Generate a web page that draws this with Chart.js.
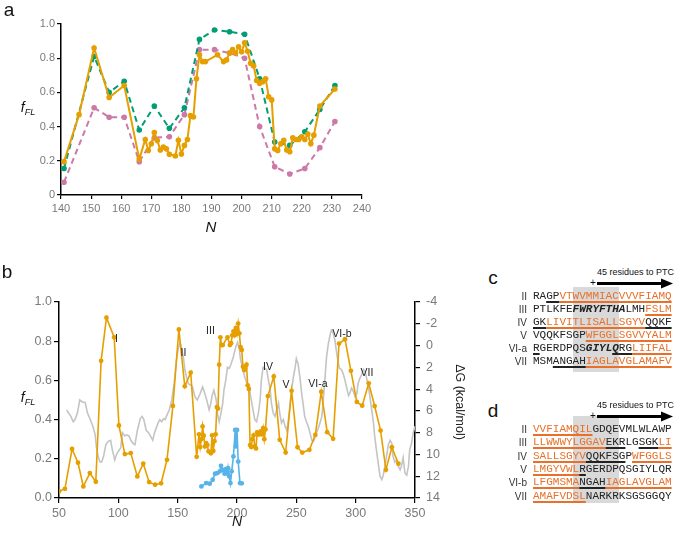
<!DOCTYPE html>
<html><head><meta charset="utf-8">
<script src="https://cdn.jsdelivr.net/npm/chart.js@4/dist/chart.umd.min.js"></script>
<style>
body{margin:0;background:#fff;}
#wrap{position:relative;width:677px;height:535px;overflow:hidden;font-family:'Liberation Sans',Arial,sans-serif;}
.abs{position:absolute;white-space:nowrap;}
.cc{transform:translate(-50%,-50%);}
.plab{font-size:19px;color:#111;line-height:19px;}
.ttl{font-style:italic;color:#111;}
.rn{font-size:10.5px;color:#222;line-height:11px;}
.seq{position:absolute;left:533px;font-family:'Liberation Mono','Courier New',monospace;font-size:11px;line-height:13px;height:13px;color:#222;white-space:pre;}
.o{color:#E8702A;}
.u{text-decoration:underline;text-decoration-thickness:1.5px;text-underline-offset:2px;}
.rl{position:absolute;right:150px;font-size:10px;color:#333;line-height:13px;text-align:right;}
.box{position:absolute;background:#d9d9d9;}
.ptc{font-size:9px;color:#111;}
canvas{position:absolute;}
</style></head>
<body><div id="wrap">
<canvas id="ca" width="380" height="240" style="left:0;top:0"></canvas>
<canvas id="cb" width="470" height="265" style="left:0;top:270px"></canvas>

<div class="abs cc plab" style="left:9px;top:9px">a</div>
<div class="abs cc plab" style="left:7px;top:271px">b</div>
<div class="abs cc plab" style="left:493px;top:277px">c</div>
<div class="abs cc plab" style="left:493px;top:410px">d</div>

<div class="abs cc ttl" style="left:28px;top:108px;font-size:14px">f<sub style="font-size:9px">FL</sub></div>
<div class="abs cc ttl" style="left:211px;top:226px;font-size:15px">N</div>
<div class="abs cc ttl" style="left:28px;top:398px;font-size:14px">f<sub style="font-size:9px">FL</sub></div>
<div class="abs cc ttl" style="left:237px;top:521px;font-size:14px">N</div>
<div class="abs cc" style="left:460px;top:402px;font-size:12.5px;color:#222;transform:translate(-50%,-50%) rotate(90deg)">ΔG (kcal/mol)</div>

<div class="abs cc rn" style="left:116.5px;top:338px">I</div>
<div class="abs cc rn" style="left:183.5px;top:352px">II</div>
<div class="abs cc rn" style="left:210.5px;top:330px">III</div>
<div class="abs cc rn" style="left:268px;top:366px">IV</div>
<div class="abs cc rn" style="left:286px;top:384px">V</div>
<div class="abs cc rn" style="left:318px;top:383px">VI-a</div>
<div class="abs cc rn" style="left:342px;top:333px">VI-b</div>
<div class="abs cc rn" style="left:367px;top:372px">VII</div>

<!-- panel c -->
<div class="box" style="left:572.6px;top:287px;width:46.2px;height:85px"></div>
<div class="abs ptc" style="left:597px;top:267px">45 residues to PTC</div>
<div class="abs" style="left:590px;top:277px;font-size:10px;color:#111">+</div>
<svg class="abs" style="left:595px;top:277px" width="80" height="14"><line x1="2" y1="6.5" x2="68" y2="6.5" stroke="#000" stroke-width="3"/><polygon points="66,1.5 78,6.5 66,11.5" fill="#000"/></svg>
<div class="rl" style="top:290.2px">II</div>
<div class="rl" style="top:303.2px">III</div>
<div class="rl" style="top:316.2px">IV</div>
<div class="rl" style="top:329.2px">V</div>
<div class="rl" style="top:342.2px">VI-a</div>
<div class="rl" style="top:355.2px">VII</div>
<div class="seq" style="top:290.2px">RA<span class="u">GP</span><span class="o u">VTWVMMIACVVVFIAMQ</span></div>
<div class="seq" style="top:303.2px">PTLKFE<b><i>FWRYFTHA</i></b>LMH<span class="o u">FSLM</span></div>
<div class="seq" style="top:316.2px"><span class="u">GK</span><span class="o u">LIVITLISALLSGYV</span><span class="u">QQKF</span></div>
<div class="seq" style="top:329.2px">VQQKFSGP<span class="o u">WFGGLSGVVYALM</span></div>
<div class="seq" style="top:342.2px"><span class="u">R</span>GERDPQS<b><i>GIYL<span class="u">Q</span></i></b><span class="u">RG</span><span class="o u">LIIFAL</span></div>
<div class="seq" style="top:355.2px">MSM<span class="u">ANGAH</span><span class="o u">IAGLAVGLAMAFV</span></div>

<!-- panel d -->
<div class="box" style="left:572.6px;top:416px;width:46.2px;height:87px"></div>
<div class="abs ptc" style="left:597px;top:400px">45 residues to PTC</div>
<div class="abs" style="left:590px;top:410px;font-size:10px;color:#111">+</div>
<svg class="abs" style="left:595px;top:409.5px" width="80" height="14"><line x1="2" y1="6.5" x2="68" y2="6.5" stroke="#000" stroke-width="3"/><polygon points="66,1.5 78,6.5 66,11.5" fill="#000"/></svg>
<div class="rl" style="top:422.8px">II</div>
<div class="rl" style="top:436.2px">III</div>
<div class="rl" style="top:449.6px">IV</div>
<div class="rl" style="top:463px">V</div>
<div class="rl" style="top:476.4px">VI-b</div>
<div class="rl" style="top:489.8px">VII</div>
<div class="seq" style="top:422.8px"><span class="o u">VVFIAMQIL</span>GDQEVMLWLAWP</div>
<div class="seq" style="top:436.2px"><span class="o u">LLWWWYLGGAV</span><span class="u">EKR</span>LG<span class="u">SGK</span><span class="o u">LI</span></div>
<div class="seq" style="top:449.6px"><span class="o u">SALLSGYV</span><span class="u">QQKFSG</span>P<span class="o u">WFGGLS</span></div>
<div class="seq" style="top:463px"><span class="o u">LMGYVWL</span><span class="u">R</span>GERDPQSGIYLQR</div>
<div class="seq" style="top:476.4px"><span class="o u">LFGMSMA</span><span class="u">NGAH</span><span class="o u">IAGLAVGLAM</span></div>
<div class="seq" style="top:489.8px"><span class="o u">AMAFVDSL</span>NARKRKSGSGGQY</div>
</div>

<script>
// ---------- Panel a data ----------
const aOrangeN = [141,146,151,156,161,166,168,169,170,171,172,173,174,175,176,178,179,180,181,182,183,184,185,186,187,188,192,194,195,196,197,198,199,200,201,202,203,204,205,206,207,208,209,210,211,212,213,214,215,216,217,218,219,220,221,222,223,224,226,231];
const aOrange  = [0.195,0.47,0.86,0.57,0.64,0.21,0.325,0.26,0.30,0.365,0.318,0.263,0.28,0.27,0.238,0.228,0.32,0.24,0.29,0.325,0.464,0.456,0.68,0.82,0.78,0.78,0.82,0.78,0.79,0.83,0.85,0.83,0.867,0.838,0.89,0.84,0.77,0.755,0.67,0.653,0.663,0.68,0.575,0.556,0.27,0.26,0.30,0.32,0.263,0.253,0.335,0.325,0.325,0.34,0.325,0.357,0.30,0.35,0.52,0.62];
const aDashN   = [141,151,156,161,166,171,176,181,186,191,196,201,206,211,216,221,226,231];
const aGreen   = [0.155,0.81,0.60,0.665,0.38,0.52,0.39,0.51,0.91,0.965,0.955,0.94,0.68,0.31,0.29,0.37,0.50,0.64];
const aPink    = [0.075,0.51,0.455,0.455,0.195,0.335,0.34,0.47,0.85,0.85,0.83,0.80,0.40,0.165,0.123,0.155,0.277,0.43];

// ---------- Panel b data ----------
const bPreN  = [50,55,61,66,70.5,76,81,85.5,90,96.5,100.5,105.5,110.5,116,121,126,131,136];
const bPre   = [0.034,0.047,0.25,0.18,0.059,0.127,0.083,0.70,0.92,0.82,0.37,0.224,0.229,0.11,0.175,0.081,0.068,0.075];
const bPostN = [236,241,246,251,255,261,266,271,276,281,286,291,296,301,305.5,311,316,321,325.5,330.5,336];
const bPost  = [0.297,0.232,0.547,0.259,0.232,0.246,0.322,0.542,0.336,0.302,0.788,0.81,0.649,0.49,0.471,0.585,0.469,0.344,0.144,0.259,0.175];
const bBlueN = [170,174,177,179.5,181.5,183.5,185.5,186.5,188,189.5,190.5,192,192.5,193.5,194.5,195.5,197,198.5,199,200,201,202.5,204];
const bBlue  = [0.059,0.076,0.073,0.093,0.124,0.127,0.136,0.164,0.144,0.124,0.147,0.124,0.152,0.110,0.076,0.136,0.212,0.347,0.263,0.347,0.186,0.076,0.075];
const grayN = [
 56.5,58,60,62,63.5,65.5,67.5,70,72,74,
 76,78.5,80.5,81.5,83,84.5,86,87.5,89.5,91.5,
 93.5,95,97,98.5,100,102,103.5,105.5,107,109,
 110.5,112.5,114,116,118.5,120,121.5,123.5,125.5,127,
 129,130.5,132.5,133.5,135,136.5,138,139.5,140.5,143,
 145,147,149,150.5,152,153.5,155,156,157.5,159,
 160.5,162.5,164.5,166.5,169,171,172,174.5,176.5,178,
 179,180.5,182.5,183.5,185,186,188,189,190.5,192,
 193.5,195,197,199,200.5,202,203,205,206.5,208.5,
 210.5,211.5,213.5,215,216.5,218,219.5,220.5,222,223.5,
 225,226.5,228,229,230.5,232,233.5,235,236,237.5,
 239,240.5,242,243,244.5,246,247.5,249,250,251.5,
 253,254.5,256,257,258.5,260,261.5,263,264.5,265.5,
 267,268.5,270,271.5,272.5,274,275.5,277,278.5,279.5,
 281,282.5,284,285.5,286.5,288,289.5,291,292.5,294,
 295,296.5,298,299.5,301,302,303.5,305,306.5,308,
 309,310.5,312,313.5,315,316,317.5,319,320.5,322,
 323,324.5,326,327.5,329,330.5,331.5,333,334.5,336,
 337.5,338.5,340,341.5,343,344.5,345.5,347,348.5,350];
const grayDG = [
 5.9,6.2,6.5,7.0,6.8,6.2,5.0,5.2,5.2,6.2,
 6.7,7.4,8.2,9.3,10.2,10.7,10.7,10.2,9.1,8.8,
 8.7,9.6,10.5,10.0,9.7,9.4,8.0,8.3,8.2,8.3,
 8.7,9.0,9.1,7.8,6.7,6.5,6.8,7.8,8.0,8.3,
 8.7,8.0,7.4,7.1,6.8,7.0,6.7,6.8,6.5,5.9,
 5.0,3.5,1.3,0.3,-0.3,0.4,1.2,2.2,2.9,3.5,
 3.6,3.8,4.7,5.0,4.4,3.8,4.1,5.0,5.9,5.3,
 4.6,4.1,5.0,6.2,7.0,6.5,5.3,4.1,3.2,2.0,
 2.1,1.7,1.0,0.1,-0.3,0.4,1.3,2.2,2.9,3.5,
 3.9,4.7,5.9,6.8,7.0,6.2,5.0,3.2,2.0,2.1,
 2.2,3.2,4.1,5.3,6.2,6.5,5.9,5.3,6.2,7.1,
 6.8,7.4,7.8,7.1,5.6,4.1,2.9,2.0,1.2,1.7,
 2.9,4.4,5.6,6.5,7.0,7.4,8.0,8.7,8.8,8.5,
 8.0,7.6,7.1,6.5,5.3,3.2,1.0,-0.2,-1.0,-1.4,
 -1.2,-0.5,0.7,1.7,2.1,2.2,2.6,3.2,3.9,4.6,
 4.4,3.9,4.2,4.7,4.4,3.5,3.0,2.7,2.2,2.4,
 2.9,3.6,4.7,5.9,7.1,8.3,9.6,10.8,12.0,12.3,
 12.0,11.2,10.2,9.1,8.7,9.0,10.2,10.7,10.5,11.1,
 11.4,11.1,10.3,11.7,11.9,11.1,9.6,9.0,8.0,7.4];

const bOrangeN = [...bPreN, ...aOrangeN, ...bPostN];
const bOrange  = [...bPre, ...aOrange, ...bPost];

// ---------- styling ----------
const OR = '#E69F00', GR = '#009E73', PK = '#CC79A7', BL = '#56B4E9', GY = '#c4c4c4';
const TICKC = '#7a7a7a';
Chart.defaults.font.family = "'Liberation Sans', Arial, sans-serif";
const xy = (xs, ys) => xs.map((x, i) => ({x: x, y: ys[i]}));

function axis(extra, fontSize, tickLen, pad) {
  return Object.assign({
    type: 'linear',
    grid: {drawOnChartArea: false, drawTicks: true, tickLength: tickLen, color: '#000', lineWidth: 1.2},
    border: {display: true, color: '#000', width: 1.5},
    ticks: {color: TICKC, font: {size: fontSize}, padding: pad, maxRotation: 0}
  }, extra);
}
function merge(a, t) { a.ticks = Object.assign(a.ticks, t); return a; }
const common = {
  animation: false, responsive: false, maintainAspectRatio: false,
  plugins: {legend: {display: false}, tooltip: {enabled: false}},
  elements: {line: {tension: 0}}
};

// Panel a
const ax = merge(axis({min: 140, max: 240, afterFit: s => { s.height = 45; }}, 11, 4, 3), {stepSize: 10});
const ay = merge(axis({min: 0, max: 1, afterFit: s => { s.width = 61; }}, 11, 4, 2), {stepSize: 0.2});
new Chart(document.getElementById('ca'), {
  type: 'line',
  data: {datasets: [
    {data: xy(aOrangeN, aOrange), borderColor: OR, backgroundColor: OR, borderWidth: 2, pointRadius: 2.8, pointBorderWidth: 0, order: 1},
    {data: xy(aDashN, aGreen), borderColor: GR, backgroundColor: GR, borderWidth: 2, borderDash: [6, 4], pointRadius: 2.8, pointBorderWidth: 0, order: 2},
    {data: xy(aDashN, aPink), borderColor: PK, backgroundColor: PK, borderWidth: 2, borderDash: [6, 4], pointRadius: 2.8, pointBorderWidth: 0, order: 3}
  ]},
  options: Object.assign({}, common, {
    layout: {padding: {top: 24, right: 18, left: 0, bottom: 0}},
    scales: {x: ax, y: ay}
  })
});

// Panel b
const bx = merge(axis({min: 50, max: 350, afterFit: s => { s.height = 37; }}, 12.5, 5, 3), {stepSize: 50});
const by = merge(axis({min: 0, max: 1, position: 'left', afterFit: s => { s.width = 59; }}, 12.5, 5, 2), {stepSize: 0.2, callback: v => v.toFixed(1)});
const by2 = merge(axis({min: -4, max: 14, reverse: true, position: 'right', afterFit: s => { s.width = 55; }}, 12.5, 5, 6), {stepSize: 2});
new Chart(document.getElementById('cb'), {
  type: 'line',
  data: {datasets: [
    {data: xy(bOrangeN, bOrange), borderColor: OR, backgroundColor: OR, borderWidth: 1.6, pointRadius: 2.4, pointBorderWidth: 0, order: 1, yAxisID: 'y'},
    {data: xy(bBlueN, bBlue), borderColor: BL, backgroundColor: BL, borderWidth: 1.6, pointRadius: 2.4, pointBorderWidth: 0, order: 2, yAxisID: 'y'},
    {data: xy(grayN, grayDG), borderColor: GY, borderWidth: 1.6, pointRadius: 0, order: 3, yAxisID: 'y2'}
  ]},
  options: Object.assign({}, common, {
    layout: {padding: {top: 32, right: 0, left: 0, bottom: 0}},
    scales: {x: bx, y: by, y2: by2}
  })
});
</script>
</body></html>
